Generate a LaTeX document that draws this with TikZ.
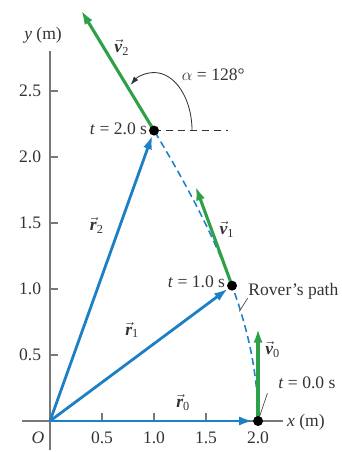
\documentclass[tikz,border=0pt]{standalone}
\usepackage{amsmath}
\usepackage{fontspec}
\setmainfont{Liberation Serif}
\usepackage{tikz}
\usetikzlibrary{
    arrows.meta,
    positioning,
    calc
}
\definecolor{rblue}{RGB}{30,128,196}
\definecolor{vgreen}{RGB}{46,160,72}
\definecolor{axgray}{RGB}{120,120,120}
\newcommand{\vecb}[2]{$\vec{\text{\bfseries\itshape #1}}_{\text{#2}}$}
\tikzset{
    axis/.style={
        draw=axgray,
        line width=0.9pt
    }
}
\tikzset{
    rvec/.style={
        draw=rblue,
        line width=2pt,
        -{Latex[length=10pt,width=6.5pt]}
    }
}
\tikzset{
    vvec/.style={
        draw=vgreen,
        line width=2.2pt,
        -{Latex[length=10pt,width=6.5pt]}
    }
}
\tikzset{
    roverpath/.style={
        draw=rblue,
        line width=1.1pt,
        dash pattern=on 5pt off 3pt
    }
}
\tikzset{
    dot/.style={
        circle,
        fill=black,
        inner sep=0pt,
        minimum size=0.25cm
    }
}
\tikzset{
    lbl/.style={
        text=black!80,
        inner sep=1pt
    }
}
\tikzset{
    leader/.style={
        draw=black!70,
        line width=0.5pt
    }
}

\begin{document}
\begin{tikzpicture}[
    x=2.6cm,
    y=3.3cm,
    font=\fontsize{12.5}{15}\selectfont
]
\useasboundingbox (-0.4808,-0.2348) rectangle (2.798,3.189);

% ------------------------------------------------------------
% Axes
% ------------------------------------------------------------

\coordinate (O) at (0,0);
\draw[axis] (-0.27,0) -- (2.24,0);
\draw[axis] (0,-0.22) -- (0,2.8);
\foreach \yv in {0.5,1.0,1.5,2.0,2.5}
    \draw[axis] (0,\yv) -- ++(0.2cm,0);
\foreach \xv in {0.5,1.0,1.5}
    \draw[axis] (\xv,0) -- ++(0,0.2cm);
\foreach \yv in {0.5,1.0,1.5,2.0,2.5}
    \node[lbl, anchor=east] at (-0.07,\yv) {\yv};
\foreach \xv in {0.5,1.0,1.5,2.0}
    \node[lbl] at (\xv,-0.13) {\xv};
\node[lbl] (olbl) at (-0.115,-0.13) {\textit{O}};
\node[lbl] (xlbl) at (2.46,-0.01) {\textit{x} (m)};
\node[lbl] (ylbl) at (-0.067,2.924) {\textit{y} (m)};

% ------------------------------------------------------------
% Positions on the path
% ------------------------------------------------------------

\coordinate (c0) at (2.0,0);
\coordinate (c1) at (1.75,1.025);
\coordinate (c2) at (1.0,2.2);
\coordinate (v0tip) at ($(c0)+(0,0.7)$);
\coordinate (v1tip) at ($(c1)+(-0.35,0.7525)$);
\coordinate (v2tip) at ($(c2)+(-0.7,0.91)$);

% rover's path
\draw[roverpath] plot[domain=0:2, samples=40, smooth]
    ({2-0.25*\x*\x},{\x+0.025*\x*\x*\x});

% reference line and angle
\coordinate (href) at (1.71,2.2);
\draw[draw=black!80, line width=0.6pt, dash pattern=on 5pt off 3.5pt] (c2) -- (href);
\draw[draw=black!80, line width=0.6pt, -{Latex[length=6pt,width=4pt]}]
    ($(c2)+(0.95cm,0)$) arc[start angle=0, end angle=128, x radius=0.95cm, y radius=1.45cm];
\node[lbl] (alpha) at (1.57,2.62) {$\alpha$ = 128°};

% ------------------------------------------------------------
% Position vectors
% ------------------------------------------------------------

\draw[rvec, shorten >=3.5pt] (O) -- (c0);
\draw[rvec, shorten >=3.5pt] (O) -- (c1);
\draw[rvec, shorten >=3.5pt] (O) -- (c2);
\node[lbl] (r0lbl) at (1.28,0.14) {\vecb{r}{0}};
\node[lbl] (r1lbl) at (0.79,0.69) {\vecb{r}{1}};
\node[lbl] (r2lbl) at (0.45,1.48) {\vecb{r}{2}};

% ------------------------------------------------------------
% Velocity vectors
% ------------------------------------------------------------

\draw[vvec] (c0) -- (v0tip);
\draw[vvec] (c1) -- (v1tip);
\draw[vvec] (c2) -- (v2tip);
\node[lbl] (v0lbl) at (2.14,0.54) {\vecb{v}{0}};
\node[lbl] (v1lbl) at (1.70,1.45) {\vecb{v}{1}};
\node[lbl] (v2lbl) at (0.69,2.83) {\vecb{v}{2}};

% ------------------------------------------------------------
% Dots and time labels
% ------------------------------------------------------------

\node[dot] (p0) at (c0) {};
\node[dot] (p1) at (c1) {};
\node[dot] (p2) at (c2) {};
\node[lbl, anchor=east] (t2) at ($(p2.west)+(0,0.01)$) {\textit{t} = 2.0 s};
\node[lbl, anchor=east] (t1) at ($(p1.west)+(0,0.03)$) {\textit{t} = 1.0 s};
\node[lbl] (t0) at (2.47,0.29) {\textit{t} = 0.0 s};
\coordinate (t0end) at (2.09,0.21);
\draw[leader] (p0) -- (t0end);

\node[lbl] (rover) at (2.34,0.98) {Rover's path};
\coordinate (roverend) at (1.90,0.93);
\coordinate (pathpt) at (1.82,0.83);
\draw[leader] (roverend) -- (pathpt);

\end{tikzpicture}
\end{document}
